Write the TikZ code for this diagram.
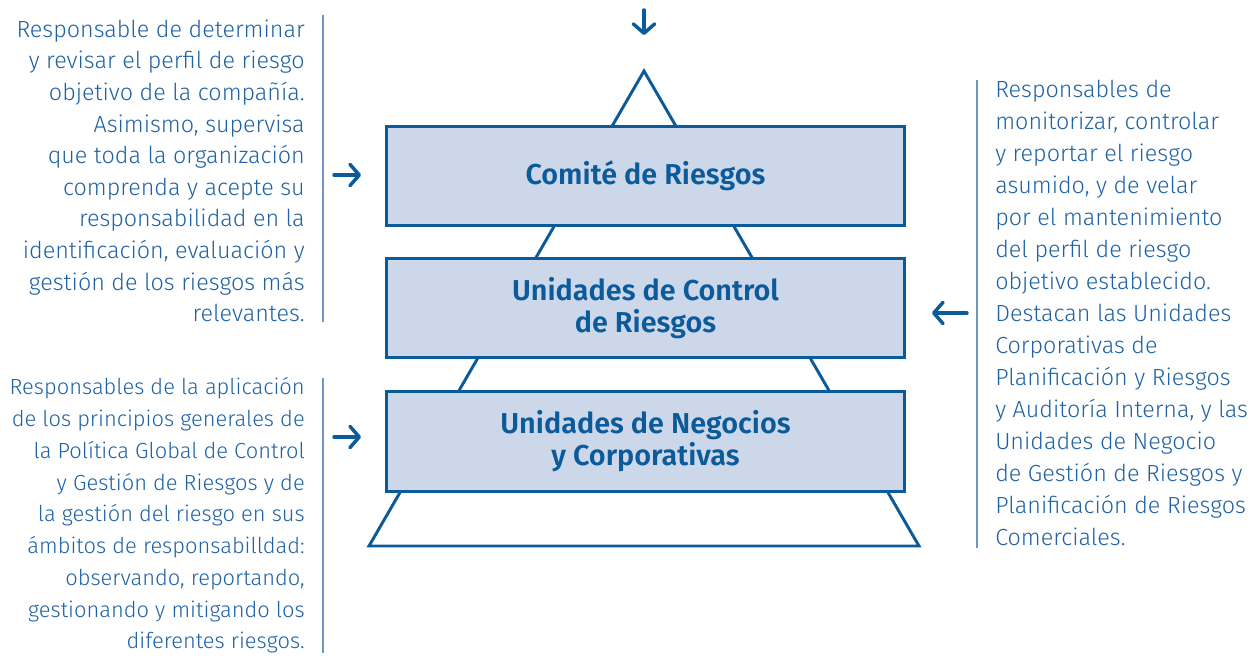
\documentclass[tikz,border=0pt]{standalone}
\usepackage{fontspec}
\setmainfont{Fira Sans Light}
\newfontfamily\boxfont{Fira Sans SemiBold}
\usetikzlibrary{arrows.meta}
\definecolor{dblue}{HTML}{0B5A9A}
\definecolor{tblue}{HTML}{1E62A4}
\definecolor{lfill}{HTML}{CDD7EA}
\definecolor{sepc}{HTML}{6F95C2}
\begin{document}
\begin{tikzpicture}[x=0.75pt,y=-0.75pt,
  level/.style={draw=dblue, fill=lfill, line width=2.2pt, minimum width=388.5pt, minimum height=74.5pt,
    inner sep=0pt, font=\boxfont\fontsize{21.6}{24}\selectfont, text=dblue, align=center},
  desc/.style={font=\fontsize{17.5}{23.7}\selectfont, text=tblue, inner sep=0pt},
  sepline/.style={draw=sepc, line width=1pt},
  arr/.style={draw=dblue, line width=2.6pt, line cap=round,
    -{Straight Barb[length=7pt,width=16pt,line cap=round,line join=round]}}
]
\useasboundingbox (0,0) rectangle (1258,656);
% pyramid outline
\coordinate (apex) at (644,71);
\coordinate (bl) at (369,546);
\coordinate (br) at (919,546);
\draw[dblue, line width=2.2pt, line join=miter] (apex) -- (bl) -- (br) -- cycle;
% levels
\node[level] (comite) at (645.5,176) {Comité de Riesgos};
\node[level] (control) at (645.5,308) {Unidades de Control\\de Riesgos};
\node[level] (negocio) at (645.5,441.5) {Unidades de Negocios\\y Corporativas};
% top arrow
\coordinate (t0) at (644,10);
\coordinate (t1) at (644,35);
\draw[arr] (t0) -- (t1);
% left arrows
\coordinate (a0) at (334,175);
\coordinate (a1) at (361,175);
\draw[arr] (a0) -- (a1);
\coordinate (b0) at (334,437);
\coordinate (b1) at (361,437);
\draw[arr] (b0) -- (b1);
% right arrow
\coordinate (c0) at (967,313);
\coordinate (c1) at (932,313);
\draw[arr] (c0) -- (c1);
% separators
\coordinate (s1a) at (323,15); \coordinate (s1b) at (323,322);
\draw[sepline] (s1a) -- (s1b);
\coordinate (s2a) at (323,378); \coordinate (s2b) at (323,653);
\draw[sepline] (s2a) -- (s2b);
\coordinate (s3a) at (977,80); \coordinate (s3b) at (977,548);
\draw[sepline] (s3a) -- (s3b);
% texts
\node[desc, anchor=north east, align=right] (txt1) at (305,19.5) {Responsable de determinar\\
y revisar el perfil de riesgo\\
objetivo de la compañía.\\
Asimismo, supervisa\\
que toda la organización\\
comprenda y acepte su\\
responsabilidad en la\\
identificación, evaluación y\\
gestión de los riesgos más\\
relevantes.};
\node[desc, font=\fontsize{16.4}{23.8}\selectfont, anchor=north east, align=right] (txt2) at (305,377.5) {Responsables de la aplicación\\
de los principios generales de\\
la Política Global de Control\\
y Gestión de Riesgos y de\\
la gestión del riesgo en sus\\
ámbitos de responsabilldad:\\
observando, reportando,\\
gestionando y mitigando los\\
diferentes riesgos.};
\node[desc, font=\fontsize{17.5}{24}\selectfont, anchor=north west, align=left] (txt3) at (995,79.5) {Responsables de\\
monitorizar, controlar\\
y reportar el riesgo\\
asumido, y de velar\\
por el mantenimiento\\
del perfil de riesgo\\
objetivo establecido.\\
Destacan las Unidades\\
Corporativas de\\
Planificación y Riesgos\\
y Auditoría Interna, y las\\
Unidades de Negocio\\
de Gestión de Riesgos y\\
Planificación de Riesgos\\
Comerciales.};
\end{tikzpicture}
\end{document}
